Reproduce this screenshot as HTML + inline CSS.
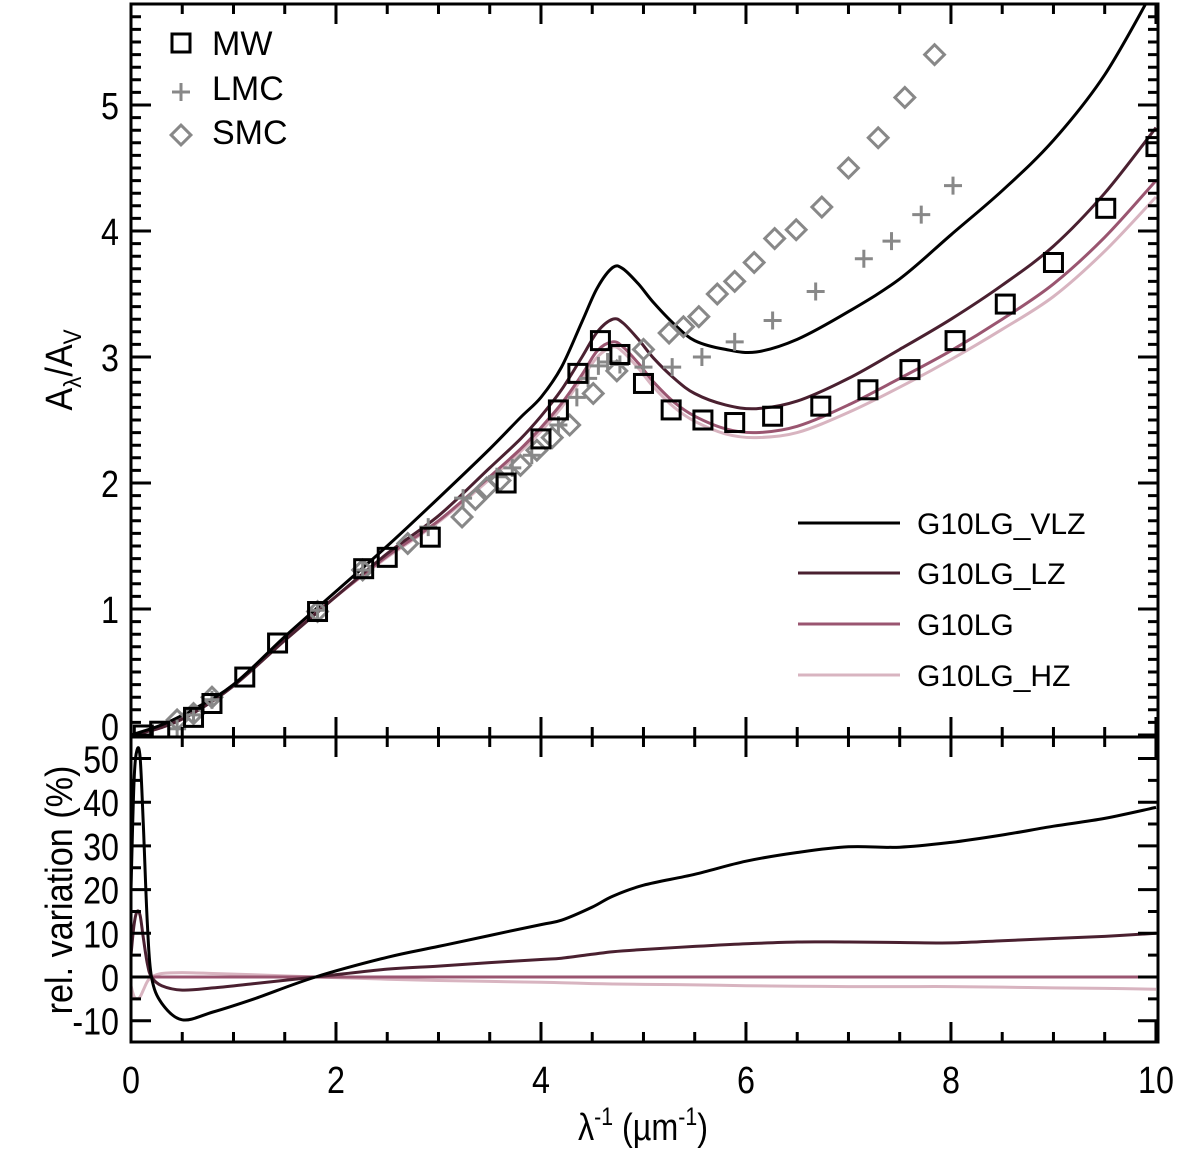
<!DOCTYPE html>
<html><head><meta charset="utf-8"><style>
html,body{margin:0;padding:0;background:#fff;}
svg text{font-family:"Liberation Sans",Arial,sans-serif;fill:#000;}
</style></head><body>
<svg id="chart" width="1200" height="1148" viewBox="0 0 1200 1148" xmlns="http://www.w3.org/2000/svg">
<defs>
<clipPath id="clipTop"><rect x="131" y="4" width="1027" height="733"/></clipPath>
<clipPath id="clipBot"><rect x="131" y="737" width="1027" height="305"/></clipPath>
</defs>
<g id="topMarks" clip-path="url(#clipTop)"></g>
<g id="botMarks" clip-path="url(#clipBot)"></g>
<g id="axes"></g>
<g>
<rect x="172" y="34" width="18" height="18" fill="none" stroke="#000" stroke-width="3"/>
<text x="212" y="55" font-size="34">MW</text>
<path d="M172,92 h18 M181,83 v18" stroke="#888" stroke-width="3"/>
<text x="212" y="100" font-size="34">LMC</text>
<rect x="174" y="128" width="14" height="14" fill="none" stroke="#888" stroke-width="3" transform="rotate(45 181 135)"/>
<text x="212" y="144" font-size="34">SMC</text>
</g>
<g>
<line x1="798" y1="523" x2="900" y2="523" stroke="#000" stroke-width="3"/>
<text x="917" y="534" font-size="30">G10LG_VLZ</text>
<line x1="798" y1="573" x2="900" y2="573" stroke="#4a2030" stroke-width="3"/>
<text x="917" y="584" font-size="30">G10LG_LZ</text>
<line x1="798" y1="624" x2="900" y2="624" stroke="#9a5570" stroke-width="3"/>
<text x="917" y="635" font-size="30">G10LG</text>
<line x1="798" y1="675" x2="900" y2="675" stroke="#d8b4c0" stroke-width="3"/>
<text x="917" y="686" font-size="30">G10LG_HZ</text>
</g>
<text transform="translate(72 370) rotate(-90) scale(0.9,1)" text-anchor="middle" font-size="38">A<tspan font-size="25" dy="9">λ</tspan><tspan dy="-9">/A</tspan><tspan font-size="25" dy="9">V</tspan></text>
<text transform="translate(72 890) rotate(-90) scale(0.9,1)" text-anchor="middle" font-size="38">rel. variation (%)</text>
<text transform="translate(643 1140) scale(0.85,1)" text-anchor="middle" font-size="38">λ<tspan font-size="25" dy="-15">-1</tspan><tspan dy="15"> (µm</tspan><tspan font-size="25" dy="-15">-1</tspan><tspan dy="15">)</tspan></text>
</svg>
<script>
const gridX=[0,0.3,0.6,1,1.5,2,2.5,3,3.5,3.8,4,4.2,4.4,4.55,4.7,4.8,4.95,5.1,5.3,5.5,5.8,6.1,6.5,7,7.5,8,8.5,9,9.5,10];
const vlz=[0,0.08,0.2,0.4,0.78,1.14,1.5,1.88,2.27,2.52,2.68,2.92,3.28,3.55,3.71,3.70,3.58,3.43,3.26,3.13,3.06,3.04,3.14,3.36,3.62,3.97,4.32,4.72,5.24,5.95];
const lz=[0,0.06,0.17,0.39,0.75,1.1,1.44,1.74,2.12,2.35,2.53,2.74,3.0,3.2,3.30,3.27,3.14,2.99,2.83,2.71,2.62,2.59,2.65,2.83,3.06,3.30,3.57,3.88,4.30,4.82];
const g10=[0,0.06,0.17,0.4,0.76,1.1,1.42,1.7,2.05,2.27,2.44,2.63,2.86,3.05,3.12,3.08,2.95,2.80,2.64,2.53,2.43,2.40,2.45,2.62,2.83,3.05,3.30,3.58,3.95,4.40];
const hz=[0,0.06,0.17,0.4,0.76,1.1,1.41,1.69,2.03,2.25,2.41,2.6,2.83,3.0,3.08,3.04,2.91,2.76,2.60,2.49,2.39,2.36,2.40,2.56,2.76,2.98,3.22,3.48,3.84,4.27];
const relX=[0,0.03,0.06,0.09,0.12,0.16,0.2,0.3,0.5,0.8,1.2,1.8,2.5,3,3.5,4,4.2,4.5,4.7,5,5.5,6,6.5,7,7.5,8,8.5,9,9.5,10];
const relVLZ=[20,45,52,50,35,12,0,-6,-9.8,-8,-5,0,4.5,7,9.5,12,13,16,18.5,21,23.5,26.5,28.5,29.8,29.7,30.8,32.5,34.5,36.3,38.8];
const relLZ=[5,12,15,14,9,3,0,-2,-3,-2.5,-1.5,0,1.8,2.5,3.3,4,4.3,5.2,5.8,6.3,7,7.6,8,8,7.9,7.8,8.3,8.8,9.3,10];
const relG10=[0,0,0,0,0,0,0,0,0,0,0,0,0,0,0,0,0,0,0,0,0,0,0,0,0,0,0,0,0,0];
const relHZ=[-2,-4.5,-5,-4.5,-3,-1,0,0.8,1,0.8,0.5,0,-0.5,-0.8,-1,-1.2,-1.3,-1.5,-1.6,-1.7,-1.8,-2,-2.1,-2.2,-2.2,-2.2,-2.3,-2.5,-2.6,-2.8];
const mwX=[0.12,0.28,0.61,0.79,1.11,1.43,1.82,2.27,2.5,2.92,3.66,4.0,4.17,4.36,4.58,4.77,5.0,5.27,5.58,5.89,6.26,6.73,7.19,7.6,8.04,8.53,9.0,9.51,10.0];
const mwY=[0.0,0.03,0.14,0.25,0.46,0.73,0.98,1.32,1.41,1.57,2.0,2.35,2.58,2.87,3.13,3.02,2.79,2.58,2.5,2.48,2.53,2.61,2.74,2.9,3.13,3.42,3.75,4.18,4.67];
const lmcX=[0.45,0.61,0.79,1.82,2.26,2.9,3.24,3.57,3.72,3.91,4.17,4.35,4.46,4.56,4.65,4.77,5.0,5.28,5.57,5.89,6.26,6.68,7.15,7.42,7.71,8.02];
const lmcY=[0.05,0.16,0.28,0.99,1.31,1.65,1.88,2.05,2.12,2.22,2.46,2.68,2.83,2.93,2.96,2.94,2.92,2.92,3.0,3.12,3.29,3.52,3.78,3.92,4.13,4.36];
const smcX=[0.45,0.61,0.79,1.82,2.26,2.7,3.23,3.36,3.47,3.6,3.8,3.96,4.11,4.28,4.51,4.74,5.0,5.25,5.39,5.54,5.72,5.89,6.08,6.28,6.49,6.74,7.0,7.29,7.55,7.84];
const smcY=[0.12,0.17,0.3,0.98,1.31,1.52,1.73,1.87,1.96,2.02,2.14,2.26,2.36,2.46,2.71,2.89,3.06,3.19,3.24,3.32,3.5,3.6,3.75,3.94,4.01,4.19,4.5,4.74,5.06,5.40];
const xTicks=[0,2,4,6,8,10];
const yTicksTop=[0,1,2,3,4,5];
const yTicksBot=[-10,0,10,20,30,40,50];

const NS='http://www.w3.org/2000/svg';
const L=131,R=1158,T=4,M=737,B=1042;
function sx(x){return L+(R-L)*x/10.02;}
function syT(y){return 735-126*y;}
function syB(v){return 977-4.37*v;}
function mk(tag,at,parent){const e=document.createElementNS(NS,tag);for(const k in at)e.setAttribute(k,at[k]);parent.appendChild(e);return e;}
function smooth(xs,ys,fx,fy){const p=xs.map((x,i)=>[fx(x),fy(ys[i])]);let d='M'+p[0][0].toFixed(1)+','+p[0][1].toFixed(1);
for(let i=0;i<p.length-1;i++){const p0=p[Math.max(0,i-1)],p1=p[i],p2=p[i+1],p3=p[Math.min(p.length-1,i+2)];
const c1=[p1[0]+(p2[0]-p0[0])/6,p1[1]+(p2[1]-p0[1])/6],c2=[p2[0]-(p3[0]-p1[0])/6,p2[1]-(p3[1]-p1[1])/6];
d+=' C'+c1[0].toFixed(1)+','+c1[1].toFixed(1)+' '+c2[0].toFixed(1)+','+c2[1].toFixed(1)+' '+p2[0].toFixed(1)+','+p2[1].toFixed(1);}return d;}
const topG=document.getElementById('topMarks'),botG=document.getElementById('botMarks'),axG=document.getElementById('axes');
const series=[['hz',hz,relHZ,'#d8b4c0'],['g10lg',g10,relG10,'#9a5570'],['lz',lz,relLZ,'#4a2030'],['vlz',vlz,relVLZ,'#000']];
series.forEach(s=>{
 const p=mk('path',{d:smooth(gridX,s[1],sx,syT),fill:'none',stroke:s[3],'stroke-width':3},topG);
 
 
 const q=mk('path',{d:smooth(relX,s[2],sx,syB),fill:'none',stroke:s[3],'stroke-width':3},botG);
 
 
});
smcX.forEach((x,i)=>{const cx=sx(x),cy=syT(smcY[i]);
 const e=mk('rect',{x:cx-7,y:cy-7,width:14,height:14,fill:'none',stroke:'#888','stroke-width':3,transform:`rotate(45 ${cx} ${cy})`},topG);
 
 });
lmcX.forEach((x,i)=>{const cx=sx(x),cy=syT(lmcY[i]);
 const e=mk('path',{d:`M${cx-9},${cy} h18 M${cx},${cy-9} v18`,stroke:'#888','stroke-width':3},topG);
 
 });
mwX.forEach((x,i)=>{const cx=sx(x),cy=syT(mwY[i]);
 const e=mk('rect',{x:cx-9,y:cy-9,width:18,height:18,fill:'none',stroke:'#000','stroke-width':3},topG);
 
 });
[[T,M],[M,B]].forEach(f=>{const r=mk('rect',{x:L,y:f[0],width:R-L,height:f[1]-f[0],fill:'none',stroke:'#000','stroke-width':3},axG);
 
 });
let d='';
for(let i=0;i<=20;i++){const x=sx(i*0.5),len=(i%4===0)?20:10;
 d+=`M${x},${T}v${len}M${x},${M}v${-len}M${x},${M}v${len}M${x},${B}v${-len}`;}
for(let i=0;i<=58;i++){const v=i*0.1,y=syT(v);if(y<T+1)continue;const len=(i%10===0)?20:10;
 d+=`M${L},${y}h${len}M${R},${y}h${-len}`;}
for(let v=-10;v<=50;v+=5){const y=syB(v),len=(v%10===0)?20:10;d+=`M${L},${y}h${len}M${R},${y}h${-len}`;}
const tk=mk('path',{d:d,stroke:'#000','stroke-width':3,fill:'none'},axG);


xTicks.forEach(v=>{const t=mk('text',{transform:`translate(${sx(v)} 1093) scale(0.85,1)`,'text-anchor':'middle','font-size':38},axG);t.textContent=v;
 
 });
yTicksTop.forEach(v=>{const y=v===0?syT(0)-9:syT(v);const t=mk('text',{transform:`translate(119 ${y+14}) scale(0.85,1)`,'text-anchor':'end','font-size':38},axG);t.textContent=v;
 
 });
yTicksBot.forEach(v=>{const t=mk('text',{transform:`translate(119 ${syB(v)+14}) scale(0.85,1)`,'text-anchor':'end','font-size':38},axG);t.textContent=v;
 
 });
</script>
</body></html>
